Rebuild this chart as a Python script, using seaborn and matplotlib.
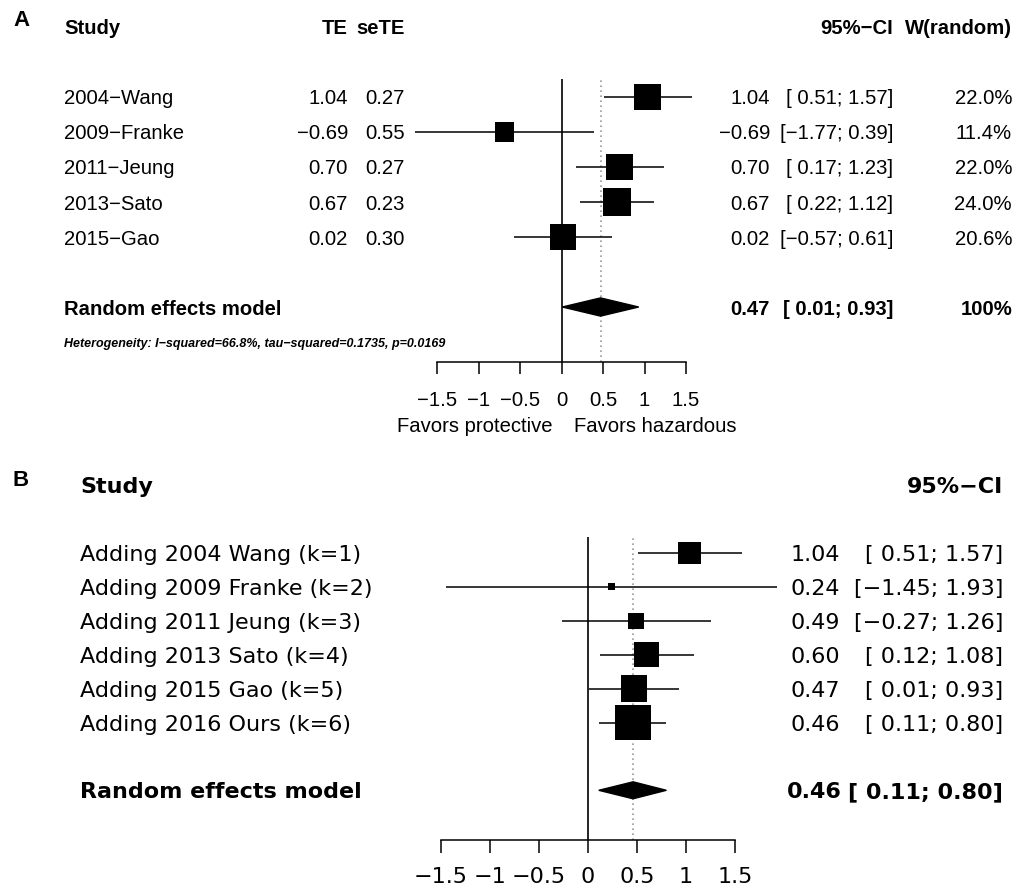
import numpy as np
import pandas as pd
import seaborn as sns
import matplotlib.pyplot as plt
from matplotlib import transforms
from matplotlib.patches import Polygon

sns.set_style("white", {'text.color': 'black', 'xtick.color': 'black', 'axes.labelcolor': 'black'})
plt.rcParams['font.family'] = ['Liberation Sans', 'DejaVu Sans']

# Panel A: individual studies
studies_a = ["2004−Wang", "2009−Franke", "2011−Jeung", "2013−Sato", "2015−Gao"]
te_a = [1.04, -0.69, 0.70, 0.67, 0.02]
sete_a = [0.27, 0.55, 0.27, 0.23, 0.30]
lower_a = [0.51, -1.77, 0.17, 0.22, -0.57]
upper_a = [1.57, 0.39, 1.23, 1.12, 0.61]
weight_a = [22.0, 11.4, 22.0, 24.0, 20.6]
pooled_a = [0.47, 0.01, 0.93]
het_text = "Heterogeneity: I−squared=66.8%, tau−squared=0.1735, p=0.0169"

# Panel B: cumulative meta-analysis
studies_b = ["Adding 2004 Wang (k=1)", "Adding 2009 Franke (k=2)", "Adding 2011 Jeung (k=3)",
             "Adding 2013 Sato (k=4)", "Adding 2015 Gao (k=5)", "Adding 2016 Ours (k=6)"]
est_b = [1.04, 0.24, 0.49, 0.60, 0.47, 0.46]
lower_b = [0.51, -1.45, -0.27, 0.12, 0.01, 0.11]
upper_b = [1.57, 1.93, 1.26, 1.08, 0.93, 0.80]
pooled_b = [0.46, 0.11, 0.80]

ticks = [-1.5, -1, -0.5, 0, 0.5, 1, 1.5]
tick_labels = ["−1.5", "−1", "−0.5", "0", "0.5", "1", "1.5"]

W, H = 1016, 888
PT = 0.72  # points per pixel at dpi 100


def fmt(v):
    return f"{v:.2f}".replace("-", "−")


def ci(lo, hi):
    lo_s = fmt(lo) if lo < 0 else " " + fmt(lo)
    return f"[{lo_s}; {fmt(hi)}]"


def forest(ax, est, lo, hi, sides_px, pooled, diamond_half, fs, family):
    rows = np.arange(1, len(est) + 1)
    prow = len(est) + 2
    ax.axvline(0, color='black', lw=1.2, zorder=1)
    ax.axvline(pooled[0], color='#9a9a9a', lw=1.2, ls=(0, (1, 2)), zorder=1)
    ax.hlines(rows, lo, hi, color='black', lw=1.1, clip_on=False, zorder=2)
    df = pd.DataFrame({'est': est, 'row': rows, 's': (np.array(sides_px) * PT) ** 2})
    sns.scatterplot(data=df, x='est', y='row', s=df['s'].values, marker='s', color='black',
                    linewidth=0, legend=False, ax=ax, clip_on=False, zorder=3)
    ax.add_patch(Polygon([(pooled[1], prow), (pooled[0], prow - diamond_half),
                          (pooled[2], prow), (pooled[0], prow + diamond_half)],
                         closed=True, color='black', clip_on=False, zorder=3))
    ax.set_xlim(-1.5, 1.5)
    ax.set_xticks(ticks, tick_labels, fontsize=fs, family=family, color='black')
    ax.set_yticks([])
    ax.set_xlabel("")
    ax.set_ylabel("")
    for s in ['top', 'right', 'left']:
        ax.spines[s].set_visible(False)
    ax.spines['bottom'].set_bounds(-1.5, 1.5)
    ax.spines['bottom'].set_color('black')
    ax.spines['bottom'].set_linewidth(1.1)
    return rows, prow


fig = plt.figure(figsize=(W / 100, H / 100), dpi=100)

# ---------- Panel A ----------
axA = fig.add_axes([437 / W, 1 - 362 / H, 249 / W, 283 / H])
sides_a = [28 * np.sqrt(w / 24.0) for w in weight_a]
rows_a, prow_a = forest(axA, te_a, lower_a, upper_a, sides_a, pooled_a, 0.26, 14.6, ['Liberation Sans'])
axA.set_ylim(8.571, 0.486)
axA.tick_params(axis='x', length=8.6, width=1.1, pad=12, color='black', direction='out', bottom=True)
tA = transforms.blended_transform_factory(fig.transFigure, axA.transData)
fsA = 14.6
kw = dict(transform=tA, fontsize=fsA, va='center_baseline', clip_on=False, color='black')
axA.text(64 / W, -1, "Study", ha='left', weight='bold', **kw)
axA.text(348 / W, -1, "TE", ha='right', weight='bold', **kw)
axA.text(405 / W, -1, "seTE", ha='right', weight='bold', **kw)
axA.text(893 / W, -1, "95%−CI", ha='right', weight='bold', **kw)
axA.text(1012 / W, -1, "W(random)", ha='right', weight='bold', **kw)
for r, name, te, se, lo, hi, w in zip(rows_a, studies_a, te_a, sete_a, lower_a, upper_a, weight_a):
    axA.text(64 / W, r, name, ha='left', **kw)
    axA.text(348 / W, r, fmt(te), ha='right', **kw)
    axA.text(405 / W, r, fmt(se), ha='right', **kw)
    axA.text(770 / W, r, fmt(te), ha='right', **kw)
    axA.text(893 / W, r, ci(lo, hi), ha='right', **kw)
    axA.text(1012 / W, r, f"{w:.1f}%", ha='right', **kw)
axA.text(64 / W, prow_a, "Random effects model", ha='left', weight='bold', **kw)
axA.text(770 / W, prow_a, fmt(pooled_a[0]), ha='right', weight='bold', **kw)
axA.text(893 / W, prow_a, ci(pooled_a[1], pooled_a[2]), ha='right', weight='bold', **kw)
axA.text(1012 / W, prow_a, "100%", ha='right', weight='bold', **kw)
axA.text(64 / W, prow_a + 1, het_text, ha='left', transform=tA, fontsize=9, weight='bold',
         style='italic', va='center_baseline', clip_on=False, color='black')
axA.text(-0.11, 10.37, "Favors protective", ha='right', va='center_baseline', fontsize=fsA,
         clip_on=False, color='black')
axA.text(0.145, 10.37, "Favors hazardous", ha='left', va='center_baseline', fontsize=fsA,
         clip_on=False, color='black')

# ---------- Panel B ----------
fam_b = ['DejaVu Sans']
axB = fig.add_axes([441 / W, 1 - 840 / H, 294 / W, 303 / H])
sides_b = [24.3 / (h - l) for l, h in zip(lower_b, upper_b)]
rows_b, prow_b = forest(axB, est_b, lower_b, upper_b, sides_b, pooled_b, 0.25, 16, fam_b)
axB.set_ylim(9.466, 0.528)
axB.tick_params(axis='x', length=9.4, width=1.1, pad=10, color='black', direction='out', bottom=True)
tB = transforms.blended_transform_factory(fig.transFigure, axB.transData)
fsB = 16
kwb = dict(transform=tB, fontsize=fsB, va='center_baseline', clip_on=False, family=fam_b, color='black')
axB.text(80 / W, -1, "Study", ha='left', weight='bold', **kwb)
axB.text(1003 / W, -1, "95%−CI", ha='right', weight='bold', **kwb)
for r, name, e, lo, hi in zip(rows_b, studies_b, est_b, lower_b, upper_b):
    axB.text(80 / W, r, name, ha='left', **kwb)
    axB.text(840 / W, r, fmt(e), ha='right', **kwb)
    axB.text(1003 / W, r, ci(lo, hi), ha='right', **kwb)
axB.text(80 / W, prow_b, "Random effects model", ha='left', weight='bold', **kwb)
axB.text(842 / W, prow_b, fmt(pooled_b[0]), ha='right', weight='bold', **kwb)
axB.text(1003 / W, prow_b, ci(pooled_b[1], pooled_b[2]), ha='right', weight='bold', **kwb)

# panel letters
fig.text(13 / W, 1 - 21 / H, "A", fontsize=16, weight='bold', va='center', ha='left', color='black')
fig.text(13 / W, 1 - 480 / H, "B", fontsize=16, weight='bold', va='center', ha='left', color='black')

fig.savefig("out.png", dpi=100, facecolor='white')
